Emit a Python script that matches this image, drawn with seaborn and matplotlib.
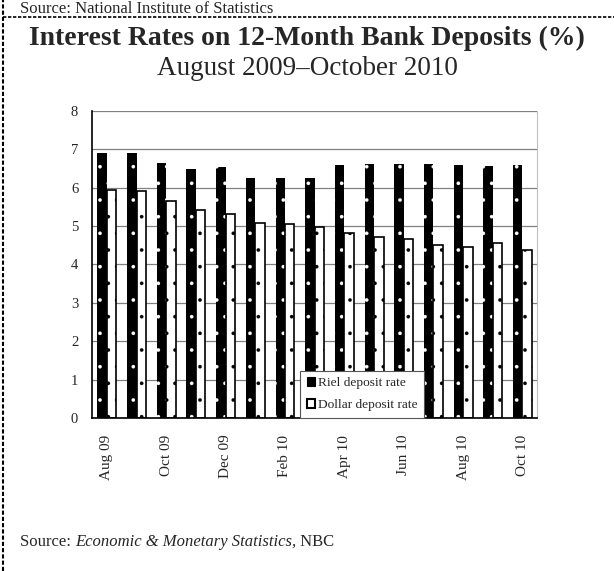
import numpy as np
import pandas as pd
import matplotlib.pyplot as plt
from matplotlib.patches import Patch
from matplotlib.lines import Line2D
import seaborn as sns

# Monthly data, Aug 2009 - Oct 2010
months = ['Aug 09', 'Sep 09', 'Oct 09', 'Nov 09', 'Dec 09', 'Jan 10', 'Feb 10', 'Mar 10',
          'Apr 10', 'May 10', 'Jun 10', 'Jul 10', 'Aug 10', 'Sep 10', 'Oct 10']
riel_rate = [6.89, 6.89, 6.63, 6.48, 6.53, 6.26, 6.25, 6.26,
             6.59, 6.61, 6.61, 6.61, 6.59, 6.57, 6.60]
dollar_rate = [5.94, 5.90, 5.66, 5.41, 5.32, 5.07, 5.05, 4.97,
               4.81, 4.70, 4.67, 4.51, 4.46, 4.56, 4.38]
series_names = ['Riel deposit rate', 'Dollar deposit rate']

df = pd.DataFrame({
    'month': months * 2,
    'rate': riel_rate + dollar_rate,
    'series': [series_names[0]] * len(months) + [series_names[1]] * len(months),
})

sns.set_style("white")
plt.rcParams['font.family'] = ['Liberation Serif', 'DejaVu Serif']
plt.rcParams['hatch.linewidth'] = 0.2

fig = plt.figure(figsize=(6.14, 5.71), dpi=100)
ax = fig.add_axes([0.150, 0.268, 0.725, 0.538])

sns.barplot(data=df, x='month', y='rate', hue='series', ax=ax,
            palette=['black', 'white'], width=0.64, legend=False)

# black bars with white dots, white bars with black dots
n = len(months)
for i, p in enumerate(ax.patches[:2 * n]):
    if i < n:
        p.set_facecolor('black')
        p.set_edgecolor('white')
        p.set_linewidth(0)
    else:
        p.set_facecolor('white')
        p.set_edgecolor('black')
        p.set_linewidth(1.2)
    p.set_hatch('.')

ax.set_ylim(0, 8)
ax.set_xlim(-0.5, n - 0.5)
ax.set_yticks(range(0, 9))
ax.yaxis.grid(True, color='#808080', linewidth=0.9)
ax.set_axisbelow(True)
ax.set_xlabel('')
ax.set_ylabel('')

ax.set_xticks(range(0, n, 2))
ax.set_xticklabels(months[::2], rotation=90, fontsize=11)
ax.set_xticks(np.arange(-0.5, n, 2), minor=True)
ax.tick_params(axis='x', which='major', length=0, pad=12)
ax.tick_params(axis='x', which='minor', length=4, width=0.8, color='#555555', direction='out')
ax.tick_params(axis='y', labelsize=10.5, length=0, pad=10)

for s in ['left', 'bottom']:
    ax.spines[s].set_color('black')
    ax.spines[s].set_linewidth(1.2)
ax.spines['right'].set_color('#c0c0c0')
ax.spines['top'].set_visible(False)

handles = [Patch(facecolor='black', edgecolor='black', linewidth=0.8),
           Patch(facecolor='white', edgecolor='black', linewidth=1.5)]
leg = ax.legend(handles, series_names, loc='lower left', bbox_to_anchor=(0.468, 0.0),
                borderaxespad=0, fontsize=9.6, frameon=True, fancybox=False,
                handlelength=0.6, handleheight=0.6, handletextpad=0.2,
                labelspacing=0.75, borderpad=0.5)
leg.get_frame().set_edgecolor('#555555')
leg.get_frame().set_linewidth(0.8)
leg.get_frame().set_alpha(1)

# titles
fig.text(0.5, 1 - 45 / 571, 'Interest Rates on 12-Month Bank Deposits (%)',
         ha='center', va='baseline', fontsize=20, fontweight='bold')
fig.text(0.5, 1 - 75 / 571, 'August 2009\u2013October 2010',
         ha='center', va='baseline', fontsize=19.5)
fig.text(20 / 614, 1 - 13 / 571, 'Source: National Institute of Statistics',
         ha='left', va='baseline', fontsize=12)

# dashed frame lines
fig.add_artist(Line2D([3 / 614, 3 / 614], [0, 1], transform=fig.transFigure,
                      color='black', linestyle=(0, (2, 1)), linewidth=1.5))
fig.add_artist(Line2D([3 / 614, 1], [1 - 17 / 571, 1 - 17 / 571], transform=fig.transFigure,
                      color='black', linestyle=(0, (2, 1)), linewidth=1.2))

# source line with italic part
renderer = fig.canvas.get_renderer()
x0 = 20 / 614
yb = 1 - 546 / 571
t1 = fig.text(x0, yb, 'Source: ', ha='left', va='baseline', fontsize=12)
w1 = t1.get_window_extent(renderer).width / fig.bbox.width
t2 = fig.text(x0 + w1, yb, 'Economic & Monetary Statistics,', ha='left', va='baseline',
              fontsize=12, style='italic')
w2 = t2.get_window_extent(renderer).width / fig.bbox.width
fig.text(x0 + w1 + w2, yb, ' NBC', ha='left', va='baseline', fontsize=12)

fig.savefig('out.png', dpi=100)
